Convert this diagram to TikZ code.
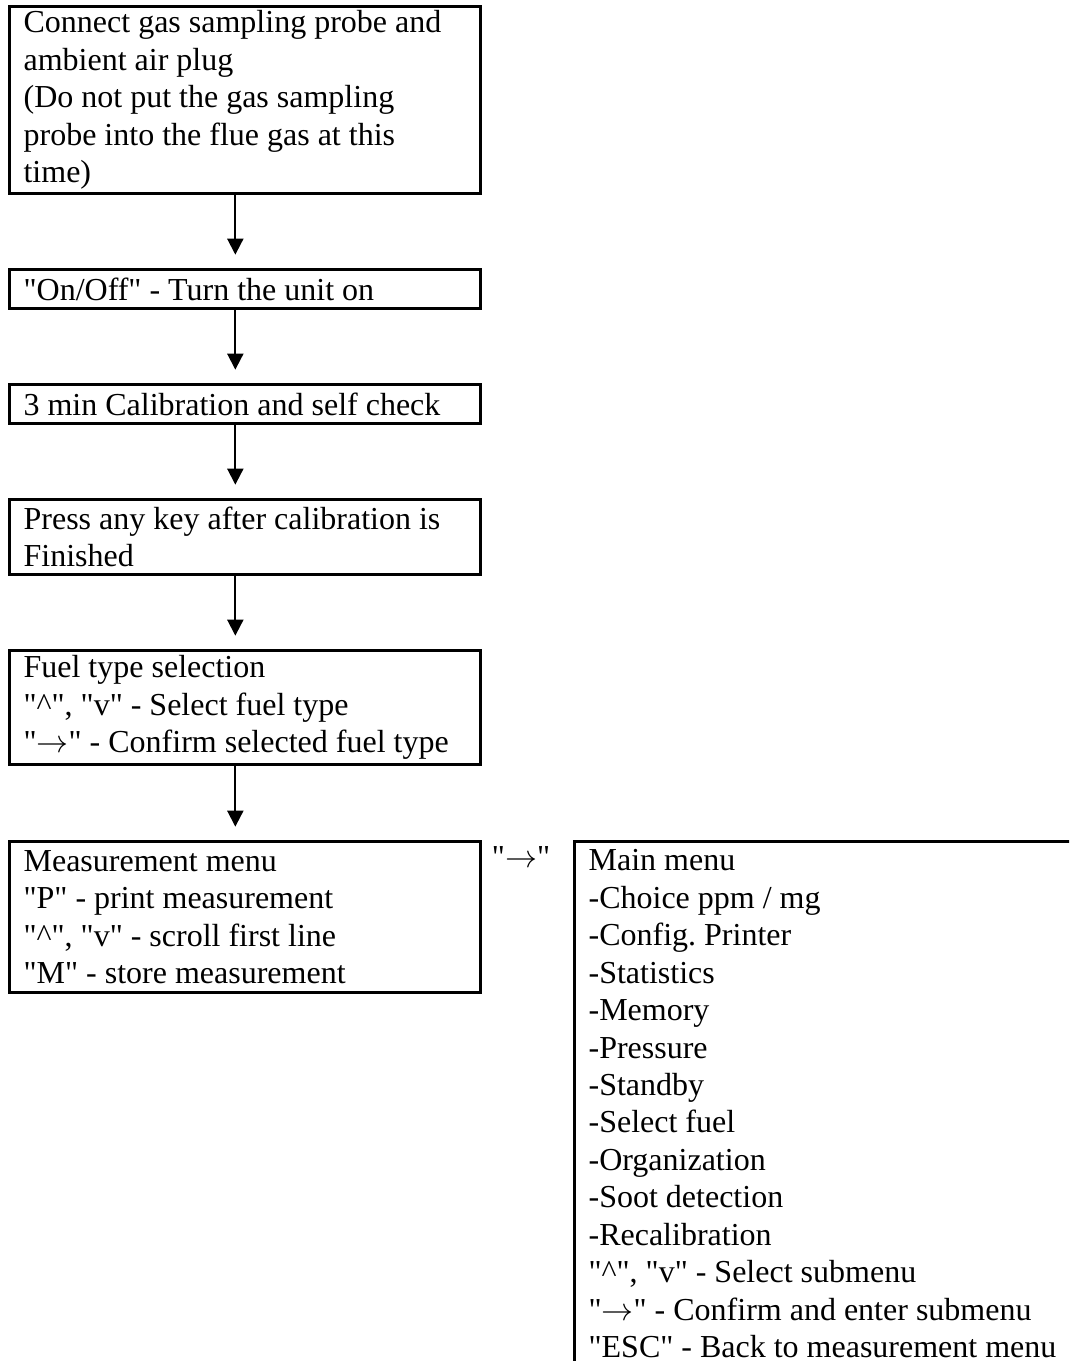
\documentclass[tikz,border=0pt]{standalone}
\usepackage{fontspec}
\setmainfont{Liberation Serif}[Ligatures=TeXOff]
\usetikzlibrary{arrows.meta}
\frenchspacing
\begin{document}
\begin{tikzpicture}[x=0.375pt,y=-0.375pt]
				\tikzstyle{Step} = [draw, line width=1.1pt, anchor=north west, align=flush left, text width=166pt, inner xsep=5.3pt, inner ysep=0pt, font=\fontsize{12}{14.05}\selectfont]
				\tikzstyle{Flow} = [-{Triangle[length=6pt,width=6pt]}, line width=0.75pt, shorten >=5pt]
				\useasboundingbox (0,0) rectangle (1069,1361);
				\clip (0,0) rectangle (1069,1361);
				\node (Connect) at (8,5) [Step, minimum height=70.1pt] {Connect gas sampling probe and\\ambient air plug\\(Do not put the gas sampling\\probe into the flue gas at this\\time)};
				\node (OnOff) at (8,268) [Step, minimum height=14.6pt] {"On/Off" - Turn the unit on};
				\node (Calib) at (8,383) [Step, minimum height=14.6pt] {3 min Calibration and self check};
				\node (Press) at (8,498) [Step, minimum height=28.1pt] {Press any key after calibration is\\Finished};
				\node (Fuel) at (8,649) [Step, minimum height=42.8pt] {Fuel type selection\\"\textasciicircum", "v" - Select fuel type\\"$\rightarrow$" - Confirm selected fuel type};
				\node (Meas) at (8,840) [Step, minimum height=56.6pt] {Measurement menu\\"P" - print measurement\\"\textasciicircum", "v" - scroll first line\\"M" - store measurement};
				\node (Key) at (521,857) [font=\fontsize{12}{14.05}\selectfont] {"$\rightarrow$"};
				\node (Main) at (573,840) [Step, text width=250pt, inner ysep=3pt] {Main menu\\-Choice ppm / mg\\-Config. Printer\\-Statistics\\-Memory\\-Pressure\\-Standby\\-Select fuel\\-Organization\\-Soot detection\\-Recalibration\\"\textasciicircum", "v" - Select submenu\\"$\rightarrow$" - Confirm and enter submenu\\"ESC" - Back to measurement menu};
				\draw [Flow] ([xshift=-3.6pt]Connect.south) to ([xshift=-3.6pt]OnOff.north);
				\draw [Flow] ([xshift=-3.6pt]OnOff.south) to ([xshift=-3.6pt]Calib.north);
				\draw [Flow] ([xshift=-3.6pt]Calib.south) to ([xshift=-3.6pt]Press.north);
				\draw [Flow] ([xshift=-3.6pt]Press.south) to ([xshift=-3.6pt]Fuel.north);
				\draw [Flow] ([xshift=-3.6pt]Fuel.south) to ([xshift=-3.6pt]Meas.north);
			\end{tikzpicture}
\end{document}
